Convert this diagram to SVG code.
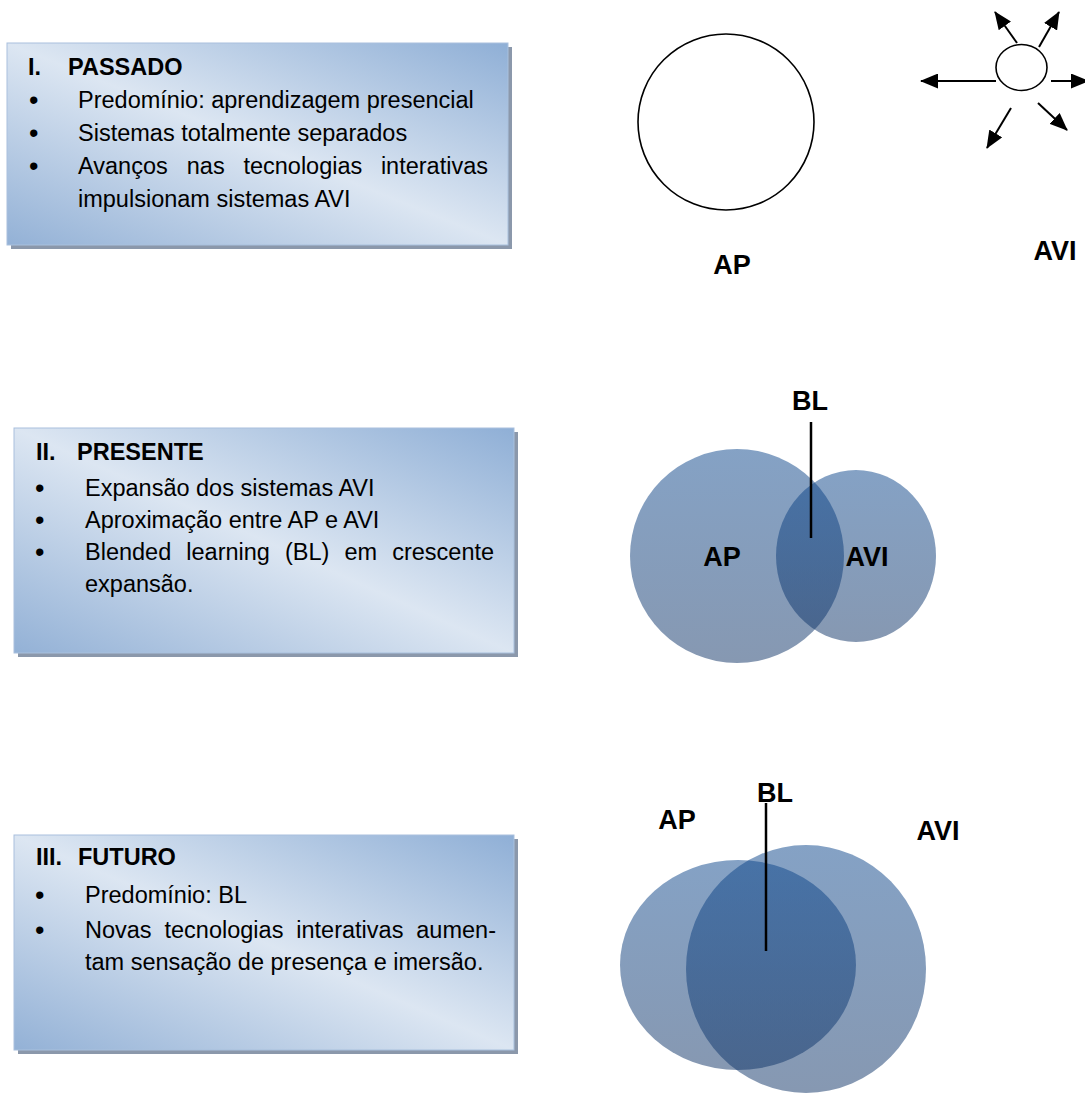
<svg xmlns="http://www.w3.org/2000/svg" width="1085" height="1093" viewBox="0 0 1085 1093">
<defs>
<linearGradient id="boxGrad" x1="1" y1="0" x2="0" y2="1">
<stop offset="0" stop-color="#8fafd6"/>
<stop offset="0.5" stop-color="#dce6f2"/>
<stop offset="1" stop-color="#93b1d6"/>
</linearGradient>
<linearGradient id="vennGrad" x1="0" y1="0" x2="0" y2="1">
<stop offset="0" stop-color="#0b458b"/>
<stop offset="1" stop-color="#0e3265"/>
</linearGradient>
<marker id="arrow" markerUnits="userSpaceOnUse" markerWidth="18" markerHeight="15" refX="17" refY="7.5" orient="auto">
<path d="M0,0 L18,7.5 L0,15 z" fill="#000"/>
</marker>
<style>
.shadow{fill:#8b98ab}
.box{fill:url(#boxGrad);stroke:#a9c0dd;stroke-width:1}
.t{font-family:"Liberation Sans",Arial,sans-serif;font-size:23.5px;fill:#000}
.b{font-family:"Liberation Sans",Arial,sans-serif;font-size:27px;fill:#000}
.h{font-family:"Liberation Sans",Arial,sans-serif;font-size:23.5px;font-weight:bold;fill:#000}
.lbl{font-family:"Liberation Sans",Arial,sans-serif;font-size:27px;font-weight:bold;fill:#000;text-anchor:middle}
.venn{fill:url(#vennGrad);fill-opacity:0.5}
.outline{fill:none;stroke:#000;stroke-width:1.6}
.arr{stroke:#000;stroke-width:2;fill:none;marker-end:url(#arrow)}
.ptr{stroke:#000;stroke-width:2.5}
</style>
</defs>

<g id="box-passado">
<rect class="shadow" x="11" y="47" width="501" height="202"/>
<rect class="box" x="7" y="43" width="501" height="202"/>
<text class="h" x="28" y="75">I.</text>
<text class="h" x="68" y="75">PASSADO</text>
<text class="b" x="29" y="109">•</text>
<text class="t" x="78" y="108">Predomínio: aprendizagem presencial</text>
<text class="b" x="29" y="142">•</text>
<text class="t" x="78" y="141">Sistemas totalmente separados</text>
<text class="b" x="29" y="175">•</text>
<text class="t" y="174"><tspan x="78">Avanços</tspan><tspan x="186.8">nas</tspan><tspan x="243.4">tecnologias</tspan><tspan x="380.9">interativas</tspan></text>
<text class="t" x="78" y="207">impulsionam sistemas AVI</text>
</g>

<g id="box-presente">
<rect class="shadow" x="18" y="432" width="500" height="225"/>
<rect class="box" x="14" y="428" width="500" height="225"/>
<text class="h" x="36" y="460">II.</text>
<text class="h" x="77" y="460">PRESENTE</text>
<text class="b" x="35" y="497">•</text>
<text class="t" x="85" y="496">Expansão dos sistemas AVI</text>
<text class="b" x="35" y="529">•</text>
<text class="t" x="85" y="528">Aproximação entre AP e AVI</text>
<text class="b" x="35" y="561">•</text>
<text class="t" y="560"><tspan x="85">Blended</tspan><tspan x="186.3">learning</tspan><tspan x="285">(BL)</tspan><tspan x="344.5">em</tspan><tspan x="392.2">crescente</tspan></text>
<text class="t" x="85" y="592">expansão.</text>
</g>

<g id="box-futuro">
<rect class="shadow" x="18" y="839" width="500" height="215"/>
<rect class="box" x="14" y="835" width="500" height="215"/>
<text class="h" x="36" y="865">III.</text>
<text class="h" x="78" y="865">FUTURO</text>
<text class="b" x="35" y="904">•</text>
<text class="t" x="85" y="903">Predomínio: BL</text>
<text class="b" x="35" y="939">•</text>
<text class="t" y="938"><tspan x="85">Novas</tspan><tspan x="164.5">tecnologias</tspan><tspan x="296.3">interativas</tspan><tspan x="416.3">aumen-</tspan></text>
<text class="t" x="85" y="970">tam sensação de presença e imersão.</text>
</g>

<g id="ap-passado">
<circle class="outline" cx="726" cy="122" r="88"/>
<text class="lbl" x="732" y="274">AP</text>
</g>

<g id="avi-passado">
<ellipse class="outline" cx="1021.5" cy="67.5" rx="25.5" ry="23"/>
<text class="lbl" x="1055" y="260">AVI</text>
</g>

<g id="venn-presente">
<circle class="venn" cx="737" cy="556" r="107"/>
<ellipse class="venn" cx="856" cy="556" rx="80" ry="86"/>
<text class="lbl" x="722" y="566">AP</text>
<text class="lbl" x="867" y="566">AVI</text>
<text class="lbl" x="810" y="410">BL</text>
</g>

<g id="venn-futuro">
<ellipse class="venn" cx="738" cy="965" rx="118" ry="105"/>
<ellipse class="venn" cx="806" cy="969" rx="120" ry="124"/>
<text class="lbl" x="677" y="829">AP</text>
<text class="lbl" x="938" y="840">AVI</text>
<text class="lbl" x="775" y="802">BL</text>
</g>

<g id="connectors">
<line class="arr" x1="996" y1="81" x2="921" y2="81"/>
<line class="arr" x1="1051" y1="81" x2="1088" y2="81"/>
<line class="arr" x1="1017" y1="43" x2="995" y2="12"/>
<line class="arr" x1="1039" y1="47" x2="1059" y2="12"/>
<line class="arr" x1="1011" y1="108" x2="987" y2="148"/>
<line class="arr" x1="1038" y1="103" x2="1067" y2="130"/>
<line class="ptr" x1="811" y1="422" x2="811" y2="538"/>
<line class="ptr" x1="766" y1="803" x2="766" y2="951"/>
</g>
</svg>
